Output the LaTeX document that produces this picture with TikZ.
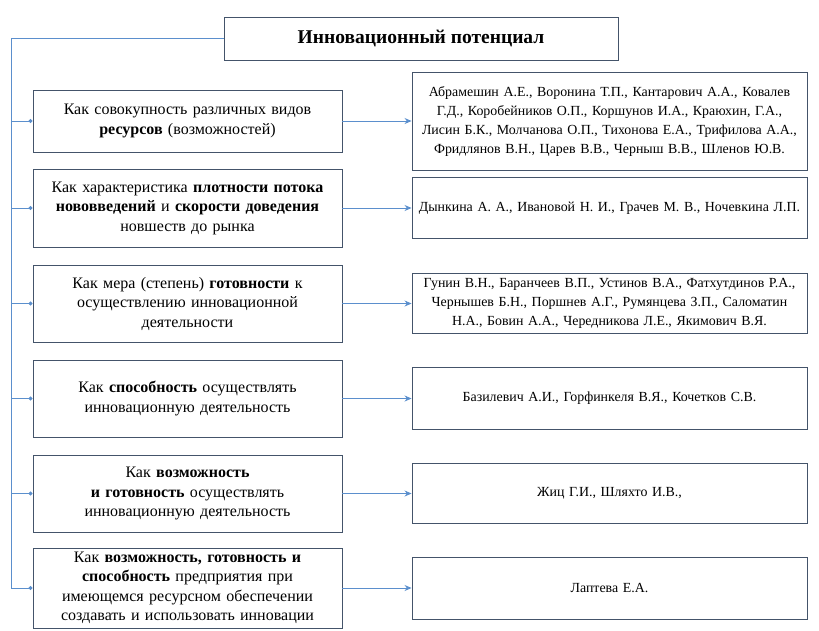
\documentclass[tikz,border=0pt]{standalone}
\usepackage{fontspec}
\setmainfont{Liberation Serif}
\usetikzlibrary{arrows.meta}
\definecolor{boxline}{RGB}{68,84,106}
\definecolor{linkblue}{RGB}{91,143,205}
\tikzset{
  titlebox/.style={draw=boxline,line width=0.9pt,fill=white,minimum width=394pt,minimum height=43pt,font=\fontsize{19.5}{22}\selectfont\bfseries},
  leftbox/.style={draw=boxline,line width=0.9pt,minimum width=309pt,text width=304pt,align=center,inner sep=0pt,font=\fontsize{16}{19.5}\selectfont},
  rightbox/.style={draw=boxline,line width=0.9pt,minimum width=395pt,text width=392pt,align=center,inner sep=0pt,font=\fontsize{13.9}{19}\selectfont},
  link/.style={draw=linkblue,line width=0.9pt},
}
\begin{document}
\begin{tikzpicture}[x=1pt,y=-1pt]
\useasboundingbox (0,0) rectangle (819,630);

\node[titlebox] (title) at (421,38.5) {Инновационный потенциал};

\node[leftbox,minimum height=62pt] (l1) at (187.5,121) {Как совокупность различных видов\\ \textbf{ресурсов} (возможностей)};
\node[leftbox,minimum height=78pt] (l2) at (187.5,208) {Как характеристика \textbf{плотности потока}\\ \textbf{нововведений} и \textbf{скорости доведения}\\ новшеств до рынка};
\node[leftbox,minimum height=77pt] (l3) at (187.5,303.5) {Как мера (степень) \textbf{готовности} к\\ осуществлению инновационной\\ деятельности};
\node[leftbox,minimum height=77pt] (l4) at (187.5,398.5) {Как \textbf{способность} осуществлять\\ инновационную деятельность};
\node[leftbox,minimum height=77pt] (l5) at (187.5,493.5) {Как \textbf{возможность}\\ \textbf{и готовность} осуществлять\\ инновационную деятельность};
\node[leftbox,minimum height=80pt] (l6) at (187.5,588) {Как \textbf{возможность, готовность и}\\ \textbf{способность} предприятия при\\ имеющемся ресурсном обеспечении\\ создавать и использовать инновации};

\node[rightbox,minimum height=98pt] (r1) at (609.5,121) {Абрамешин А.Е., Воронина Т.П., Кантарович А.А., Ковалев\\ Г.Д., Коробейников О.П., Коршунов И.А., Краюхин, Г.А.,\\ Лисин Б.К., Молчанова О.П., Тихонова Е.А., Трифилова А.А.,\\ Фридлянов В.Н., Царев В.В., Черныш В.В., Шленов Ю.В.};
\node[rightbox,minimum height=61pt] (r2) at (609.5,208) {Дынкина А. А., Ивановой Н. И., Грачев М. В., Ночевкина Л.П.};
\node[rightbox,minimum height=60pt] (r3) at (609.5,303.5) {Гунин В.Н., Баранчеев В.П., Устинов В.А., Фатхутдинов Р.А.,\\ Чернышев Б.Н., Поршнев А.Г., Румянцева З.П., Саломатин\\ Н.А., Бовин А.А., Чередникова Л.Е., Якимович В.Я.};
\node[rightbox,minimum height=62pt] (r4) at (609.5,398.5) {Базилевич А.И., Горфинкеля В.Я., Кочетков С.В.};
\node[rightbox,minimum height=60pt] (r5) at (609.5,493.5) {Жиц Г.И., Шляхто И.В.,};
\node[rightbox,minimum height=62pt] (r6) at (609.5,588) {Лаптева Е.А.};

% trunk from the title down the left side
\coordinate (top) at (11,38.5);
\coordinate (bot) at (11,588);
\draw[link] (title.west) -- (top) -- (bot);

% branches to the left boxes
\draw[link,-{Circle[length=4pt]}] (l1.west -| top) -- (l1.west);
\draw[link,-{Circle[length=4pt]}] (l2.west -| top) -- (l2.west);
\draw[link,-{Circle[length=4pt]}] (l3.west -| top) -- (l3.west);
\draw[link,-{Circle[length=4pt]}] (l4.west -| top) -- (l4.west);
\draw[link,-{Circle[length=4pt]}] (l5.west -| top) -- (l5.west);
\draw[link,-{Circle[length=4pt]}] (bot) -- (l6.west);

% arrows to the authors
\draw[link,-{Stealth[length=7pt,width=6pt]}] (l1) -- (r1);
\draw[link,-{Stealth[length=7pt,width=6pt]}] (l2) -- (r2);
\draw[link,-{Stealth[length=7pt,width=6pt]}] (l3) -- (r3);
\draw[link,-{Stealth[length=7pt,width=6pt]}] (l4) -- (r4);
\draw[link,-{Stealth[length=7pt,width=6pt]}] (l5) -- (r5);
\draw[link,-{Stealth[length=7pt,width=6pt]}] (l6) -- (r6);

\end{tikzpicture}
\end{document}
